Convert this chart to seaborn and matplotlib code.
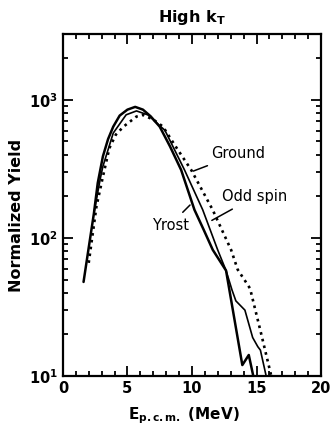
import numpy as np
import pandas as pd
import matplotlib
matplotlib.use("Agg")
import matplotlib.pyplot as plt
from matplotlib.ticker import MultipleLocator, LogLocator, NullFormatter
import seaborn as sns

# values (E in MeV, normalized yield)
yrast_e = [1.6, 2.0, 2.4, 2.7, 3.1, 3.5, 3.9, 4.4, 5.0, 5.6, 6.2, 6.8, 7.5, 8.3,
           9.16, 10.19, 10.9, 11.61, 12.64, 13.9, 14.4, 14.8]
yrast_y = [48, 85, 150, 250, 390, 520, 640, 770, 850, 890, 850, 760, 640, 460,
           311, 160, 115, 82, 58, 12, 14.2, 9.5]

odd_e = [2.4, 2.9, 3.1, 3.9, 4.9, 5.7, 6.6, 7.5, 7.9, 9.42, 10.83, 11.99, 12.64,
         13.1, 13.4, 14.1, 14.7, 15.1, 15.3, 15.8]
odd_y = [150, 270, 330, 575, 780, 832, 778, 650, 603, 311, 160, 82, 58,
         42, 35, 30, 19, 16.3, 15.4, 9.5]

ground_e = [2.0, 2.6, 3.1, 3.6, 4.1, 4.7, 5.7, 6.2, 7.0, 7.75, 8.8, 9.94, 11.6,
            13.03, 13.54, 14.3, 14.5, 15.35, 16.2]
ground_y = [66, 169, 278, 447, 560, 641, 757, 778, 720, 641, 450, 311, 160,
            82, 59, 46, 43, 20.4, 9.5]

sns.set_style("ticks")
plt.rcParams['font.family'] = ['DejaVu Sans']
plt.rcParams['mathtext.default'] = 'bf'
for key in ['text.color', 'axes.labelcolor', 'xtick.color', 'ytick.color', 'axes.edgecolor']:
    plt.rcParams[key] = 'black'

fig = plt.figure(figsize=(3.31, 4.28), dpi=100)
ax = fig.add_axes([0.190, 0.1215, 0.780, 0.799])

df_yrast = pd.DataFrame({"E": yrast_e, "Yield": yrast_y})
df_odd = pd.DataFrame({"E": odd_e, "Yield": odd_y})
df_ground = pd.DataFrame({"E": ground_e, "Yield": ground_y})

sns.lineplot(data=df_yrast, x="E", y="Yield", sort=False, estimator=None,
             color="black", lw=1.8, ax=ax)
sns.lineplot(data=df_odd, x="E", y="Yield", sort=False, estimator=None,
             color="black", lw=1.2, ax=ax)
sns.lineplot(data=df_ground, x="E", y="Yield", sort=False, estimator=None,
             color="black", lw=1.9, linestyle=(0, (1, 1.6)), ax=ax)

ax.set_yscale("log")
ax.set_xlim(0, 20)
ax.set_ylim(10, 3000)

ax.xaxis.set_major_locator(MultipleLocator(5))
ax.xaxis.set_minor_locator(MultipleLocator(1))
ax.yaxis.set_major_locator(LogLocator(base=10))
ax.yaxis.set_minor_locator(LogLocator(base=10, subs=np.arange(2, 10)))
ax.yaxis.set_minor_formatter(NullFormatter())

ax.tick_params(which="both", direction="in", top=True, right=True, width=1.3)
ax.tick_params(which="major", length=7, labelsize=10.5)
ax.tick_params(which="minor", length=3.5)
for lab in ax.get_xticklabels() + ax.get_yticklabels():
    lab.set_fontweight("bold")
for sp in ax.spines.values():
    sp.set_linewidth(1.6)

ax.set_xlabel(r"E$_{\mathbf{p.c.m.}}$ (MeV)", fontsize=11, fontweight="bold")
ax.xaxis.set_label_coords(0.47, -0.085)
ax.set_ylabel("Normalized Yield", fontsize=11.5, fontweight="bold")
ax.yaxis.set_label_coords(-0.15, 0.47)
ax.set_title(r"High k$_{\mathbf{T}}$", fontsize=11.5, fontweight="bold", pad=9)

arrow = dict(arrowstyle="-", color="black", lw=1.1)
ax.annotate("Ground", xy=(9.9, 300), xytext=(11.5, 406), fontsize=10.5,
            va="center", ha="left", arrowprops=arrow)
ax.annotate("Odd spin", xy=(11.35, 131), xytext=(12.3, 198), fontsize=10.5,
            va="center", ha="left", arrowprops=arrow)
ax.annotate("Yrost", xy=(10.0, 179), xytext=(8.3, 124), fontsize=10.5,
            va="center", ha="center", arrowprops=arrow)

fig.savefig("out.png", dpi=100)
